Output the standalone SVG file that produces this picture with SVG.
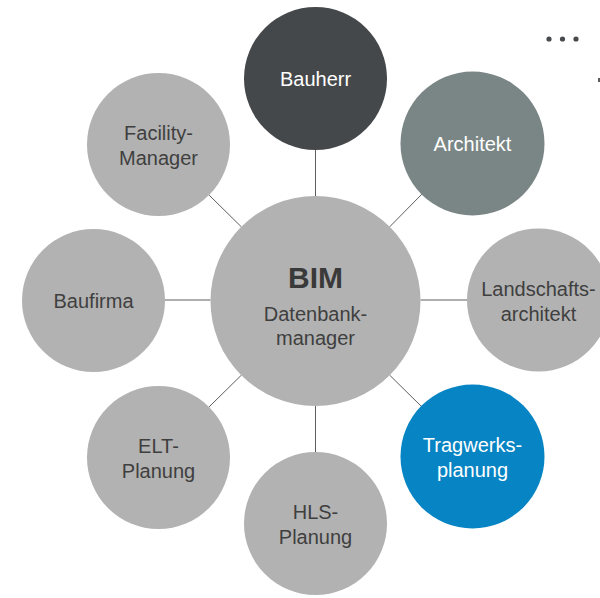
<svg xmlns="http://www.w3.org/2000/svg" width="600" height="598" viewBox="0 0 600 598">
  <style>
    .node { fill: #b2b2b2; }
    .dark { fill: #45484a; }
    .slate { fill: #7a8685; }
    .blue { fill: #0784c3; }
    .lbl { font-family: "Liberation Sans", Arial, Helvetica, sans-serif; font-size: 20px; fill: #3f3f3f; text-anchor: middle; }
    .lbl.light { fill: #ffffff; }
    .title { font-family: "Liberation Sans", Arial, Helvetica, sans-serif; font-size: 30px; font-weight: bold; fill: #3a3a3a; text-anchor: middle; }
    .conn line { stroke: #5e5e5e; stroke-width: 1; }
  </style>
  <rect width="600" height="598" fill="#ffffff"/>

  <!-- connectors from the central node to each satellite -->
  <g id="connectors" class="conn">
    <line x1="315.5" y1="150" x2="315.5" y2="196"/>
    <line x1="389.7" y1="226.8" x2="421.9" y2="194.1"/>
    <line x1="420.5" y1="300" x2="467" y2="300"/>
    <line x1="389.7" y1="375.2" x2="421.9" y2="406.9"/>
    <line x1="315.5" y1="406" x2="315.5" y2="452"/>
    <line x1="241.3" y1="375.2" x2="209.1" y2="406.9"/>
    <line x1="210.5" y1="300" x2="165" y2="300"/>
    <line x1="241.3" y1="226.8" x2="209.1" y2="195.1"/>
  </g>

  <g id="bim">
    <circle class="node" cx="315.5" cy="301" r="105"/>
    <text class="title" x="315.5" y="288">BIM</text>
    <text class="lbl" x="315.5" y="321">Datenbank-</text>
    <text class="lbl" x="315.5" y="345">manager</text>
  </g>

  <g id="bauherr">
    <circle class="dark" cx="315.5" cy="78.5" r="71.5"/>
    <text class="lbl light" x="315.5" y="85.5">Bauherr</text>
  </g>

  <g id="architekt">
    <circle class="slate" cx="472.5" cy="143.5" r="72"/>
    <text class="lbl light" x="472.5" y="150.5">Architekt</text>
  </g>

  <g id="landschaftsarchitekt">
    <circle class="node" cx="538.5" cy="300" r="71.5"/>
    <text class="lbl" x="538.5" y="295.5">Landschafts-</text>
    <text class="lbl" x="538.5" y="320.5">architekt</text>
  </g>

  <g id="tragwerksplanung">
    <circle class="blue" cx="472.5" cy="456.5" r="72"/>
    <text class="lbl light" x="472.5" y="452">Tragwerks-</text>
    <text class="lbl light" x="472.5" y="477">planung</text>
  </g>

  <g id="hls-planung">
    <circle class="node" cx="315.5" cy="523.5" r="71.5"/>
    <text class="lbl" x="315.5" y="519">HLS-</text>
    <text class="lbl" x="315.5" y="544">Planung</text>
  </g>

  <g id="elt-planung">
    <circle class="node" cx="158.5" cy="457.5" r="71.5"/>
    <text class="lbl" x="158.5" y="453">ELT-</text>
    <text class="lbl" x="158.5" y="478">Planung</text>
  </g>

  <g id="baufirma">
    <circle class="node" cx="93.5" cy="300.5" r="71.5"/>
    <text class="lbl" x="93.5" y="307.5">Baufirma</text>
  </g>

  <g id="facility-manager">
    <circle class="node" cx="158.5" cy="144.5" r="71.5"/>
    <text class="lbl" x="158.5" y="140">Facility-</text>
    <text class="lbl" x="158.5" y="165">Manager</text>
  </g>

  <!-- menu dots in the corner -->
  <g id="menu" fill="#474a4c">
    <circle cx="549" cy="39" r="2.6"/>
    <circle cx="562.5" cy="39" r="2.6"/>
    <circle cx="576" cy="39" r="2.6"/>
  </g>
  <rect x="598" y="78" width="2" height="4" fill="#5a5a5a"/>
</svg>
